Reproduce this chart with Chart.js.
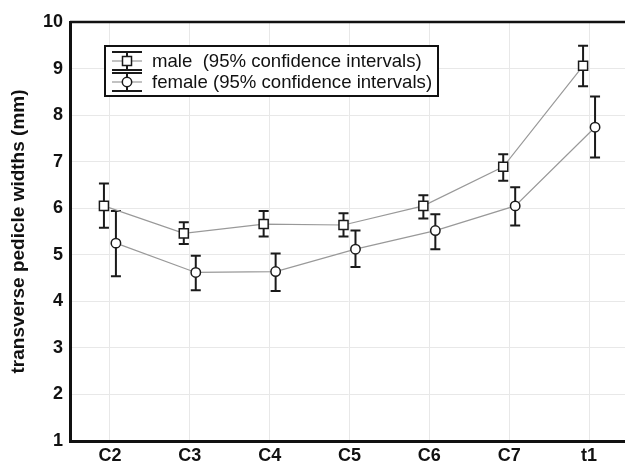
<!DOCTYPE html>
<html>
<head>
<meta charset="utf-8">
<script src="https://cdn.jsdelivr.net/npm/chart.js@4/dist/chart.umd.min.js"></script>
<style>
  html, body { margin: 0; padding: 0; background: #fff; overflow: hidden; }
  canvas { display: block; }
</style>
</head>
<body>
<canvas id="chart" width="625" height="463"></canvas>
<script>
const categories = ["C2", "C3", "C4", "C5", "C6", "C7", "t1"];
const maleMean = [6.05, 5.46, 5.66, 5.64, 6.05, 6.89, 9.06];
const maleLow = [5.58, 5.23, 5.39, 5.39, 5.78, 6.59, 8.62];
const maleHigh = [6.53, 5.70, 5.94, 5.89, 6.28, 7.16, 9.49];
const femaleMean = [5.25, 4.62, 4.64, 5.12, 5.52, 6.05, 7.74];
const femaleLow = [4.54, 4.24, 4.22, 4.74, 5.12, 5.63, 7.09];
const femaleHigh = [5.94, 4.98, 5.03, 5.52, 5.87, 6.45, 8.40];
const yTicks = [1, 2, 3, 4, 5, 6, 7, 8, 9, 10];
const legendLabels = ["male  (95% confidence intervals)", "female (95% confidence intervals)"];

const font = "'Liberation Sans', Arial, sans-serif";
const shift = 0.075; // male drawn a bit left, female a bit right of the tick

function points(values, dx) {
  return values.map((v, i) => ({ x: i + dx, y: v }));
}

const errorBars = {
  id: "errorBars",
  beforeDatasetsDraw(chart) {
    const { ctx, scales: { y } } = chart;
    chart.data.datasets.forEach((ds, di) => {
      const meta = chart.getDatasetMeta(di);
      ctx.save();
      ctx.strokeStyle = "#1a1a1a";
      ctx.lineWidth = 2;
      meta.data.forEach((pt, i) => {
        const lo = y.getPixelForValue(ds.low[i]);
        const hi = y.getPixelForValue(ds.high[i]);
        ctx.beginPath();
        ctx.moveTo(pt.x, lo); ctx.lineTo(pt.x, hi);
        ctx.moveTo(pt.x - 5, lo); ctx.lineTo(pt.x + 5, lo);
        ctx.moveTo(pt.x - 5, hi); ctx.lineTo(pt.x + 5, hi);
        ctx.stroke();
      });
      ctx.restore();
    });
  }
};

const frameAndLegend = {
  id: "frameAndLegend",
  afterDraw(chart) {
    const { ctx, chartArea: a } = chart;
    ctx.save();
    // top frame line
    ctx.strokeStyle = "#111";
    ctx.lineWidth = 2.5;
    ctx.beginPath();
    ctx.moveTo(a.left, a.top);
    ctx.lineTo(a.right, a.top);
    ctx.stroke();

    // legend box
    ctx.fillStyle = "#fff";
    ctx.fillRect(105, 46, 333, 50);
    ctx.lineWidth = 2;
    ctx.strokeRect(105, 46, 333, 50);

    const mids = [61, 82];
    chart.data.datasets.forEach((ds, i) => {
      const cx = 127, cy = mids[i];
      ctx.strokeStyle = "#999";
      ctx.lineWidth = 1.2;
      ctx.beginPath();
      ctx.moveTo(112, cy); ctx.lineTo(142, cy);
      ctx.stroke();
      ctx.strokeStyle = "#1a1a1a";
      ctx.lineWidth = 2;
      ctx.beginPath();
      ctx.moveTo(cx, cy - 9); ctx.lineTo(cx, cy + 9);
      ctx.moveTo(112, cy - 9); ctx.lineTo(142, cy - 9);
      ctx.moveTo(112, cy + 9); ctx.lineTo(142, cy + 9);
      ctx.stroke();

      ctx.fillStyle = "#fff";
      ctx.lineWidth = 1.5;
      ctx.beginPath();
      if (ds.pointStyle === "rect") {
        ctx.rect(cx - 4.5, cy - 4.5, 9, 9);
      } else {
        ctx.arc(cx, cy, 4.7, 0, Math.PI * 2);
      }
      ctx.fill();
      ctx.stroke();

      ctx.fillStyle = "#111";
      ctx.font = "18.6px " + font;
      ctx.textBaseline = "middle";
      ctx.textAlign = "left";
      ctx.fillText(legendLabels[i], 152, cy + 1);
    });
    ctx.restore();
  }
};

new Chart(document.getElementById("chart"), {
  type: "line",
  data: {
    datasets: [
      {
        label: legendLabels[0],
        data: points(maleMean, -shift),
        low: maleLow,
        high: maleHigh,
        borderColor: "#999",
        borderWidth: 1.2,
        pointStyle: "rect",
        pointRadius: 6.4,
        pointBackgroundColor: "#fff",
        pointBorderColor: "#1a1a1a",
        pointBorderWidth: 1.5,
        tension: 0,
      },
      {
        label: legendLabels[1],
        data: points(femaleMean, shift),
        low: femaleLow,
        high: femaleHigh,
        borderColor: "#999",
        borderWidth: 1.2,
        pointStyle: "circle",
        pointRadius: 4.7,
        pointBackgroundColor: "#fff",
        pointBorderColor: "#1a1a1a",
        pointBorderWidth: 1.5,
        tension: 0,
      },
    ],
  },
  options: {
    responsive: false,
    animation: false,
    layout: { autoPadding: false, padding: { left: 0, top: 22, right: 0, bottom: 0 } },
    plugins: {
      legend: { display: false },
      tooltip: { enabled: false },
    },
    scales: {
      x: {
        type: "linear",
        min: -0.5,
        max: 6.45,
        afterBuildTicks: (scale) => {
          scale.ticks = categories.map((c, i) => ({ value: i }));
        },
        afterFit: (scale) => {
          scale.height = 22;
          scale.paddingLeft = 0;
          scale.paddingRight = 0;
        },
        ticks: {
          callback: (v) => categories[v],
          color: "#111",
          font: { family: font, size: 18, weight: "bold" },
          padding: 4,
          maxRotation: 0,
        },
        grid: { color: "#e8e8e8", drawTicks: false },
        border: { color: "#111", width: 3 },
      },
      y: {
        min: 1,
        max: 10,
        afterBuildTicks: (scale) => {
          scale.ticks = yTicks.map((v) => ({ value: v }));
        },
        afterFit: (scale) => { scale.width = 70; },
        ticks: {
          color: "#111",
          font: { family: font, size: 18, weight: "bold" },
          padding: 7,
        },
        grid: { color: "#e8e8e8", drawTicks: false },
        border: { color: "#111", width: 3 },
        title: {
          display: true,
          text: "transverse pedicle widths (mm)",
          color: "#111",
          font: { family: font, size: 19, weight: "bold" },
          padding: { top: 7, bottom: 0 },
        },
      },
    },
  },
  plugins: [errorBars, frameAndLegend],
});
</script>
</body>
</html>
